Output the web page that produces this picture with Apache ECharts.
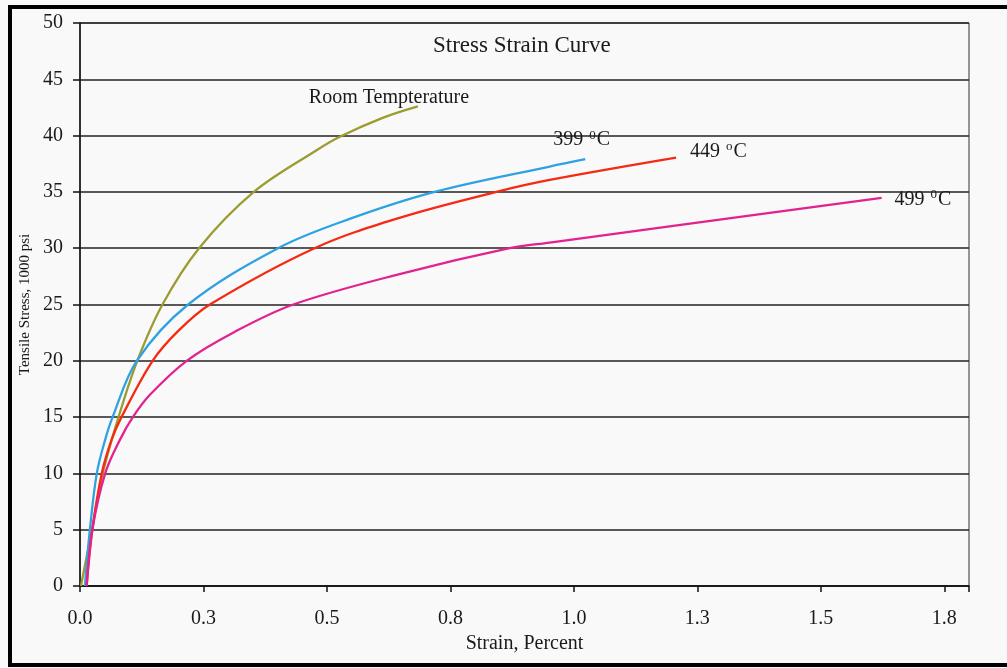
<!DOCTYPE html>
<html>
<head>
<meta charset="utf-8">
<script src="https://cdn.jsdelivr.net/npm/echarts@6/dist/echarts.min.js"></script>
<style>html,body{margin:0;padding:0;background:#f9f9f9}#c{width:1007px;height:668px}</style>
</head>
<body>
<div id="c"></div>
<script>
const titleText = 'Stress Strain Curve';
const xAxisName = 'Strain, Percent';
const yAxisName = 'Tensile Stress, 1000 psi';
const seriesNames = ['Room Tempterature', '399 {s|0}C', '449 {s|o}C', '499 {s|0}C'];

const strainRoom = [0.002, 0.024, 0.046, 0.078, 0.116, 0.167, 0.241, 0.352, 0.479, 0.526, 0.614, 0.684];
const stressRoom = [0, 5, 10, 15, 20, 25, 30, 35, 38.7, 39.9, 41.6, 42.6];

const strain399 = [0.010, 0.020, 0.034, 0.051, 0.066, 0.115, 0.219, 0.401, 0.546, 0.718, 0.951, 1.023];
const stress399 = [0, 5, 10, 13, 15, 20, 25, 30, 32.6, 35, 37.25, 37.9];

const strain449 = [0.0135, 0.025, 0.044, 0.064, 0.084, 0.147, 0.2, 0.263, 0.475, 0.647, 0.843, 0.951, 1.207];
const stress449 = [0, 5, 10, 13, 15, 20, 22.7, 25, 30, 32.7, 35, 36.06, 38.04];

const strain499 = [0.0135, 0.025, 0.051, 0.081, 0.107, 0.142, 0.216, 0.31, 0.432, 0.647, 0.870, 0.951, 1.22, 1.623];
const stress499 = [0, 5, 10, 13, 15, 17, 20, 22.5, 25, 27.7, 30, 30.5, 32.1, 34.46];

const colors = ['#9b9b30', '#2fa2e2', '#f52a12', '#e2238f'];

function zip(xs, ys) { return xs.map((x, i) => [x, ys[i]]); }

const font = "'Liberation Serif', 'Times New Roman', serif";
const labelOffsets = [[-117, -9], [-40, -19], [6, -6], [5, 2]];
const allData = [zip(strainRoom, stressRoom), zip(strain399, stress399), zip(strain449, stress449), zip(strain499, stress499)];

const chart = echarts.init(document.getElementById('c'));
chart.setOption({
  animation: false,
  backgroundColor: '#f9f9f9',
  title: {
    text: titleText, left: 428, top: 29,
    textStyle: { fontFamily: font, fontSize: 23, fontWeight: 'normal', color: '#1a1a1a' }
  },
  graphic: [{
    type: 'rect', shape: { x: 10, y: 7, width: 1010, height: 658 },
    style: { fill: 'none', stroke: '#000', lineWidth: 4 }, silent: true
  }],
  grid: { left: 80, top: 23, right: 38, bottom: 82, show: true, borderColor: '#333', borderWidth: 1, backgroundColor: 'transparent' },
  xAxis: {
    type: 'value', min: 0, max: 1.8, interval: 0.25,
    name: xAxisName, nameLocation: 'middle', nameGap: 47,
    nameTextStyle: { fontFamily: font, fontSize: 20, color: '#1a1a1a' },
    axisLine: { show: true, lineStyle: { color: '#111', width: 1.5 } },
    axisTick: { show: true, length: 6, lineStyle: { color: '#111', width: 1.5 } },
    axisLabel: {
      margin: 23, fontFamily: font, fontSize: 20, color: '#1a1a1a',
      formatter: v => (Math.abs(v / 0.25 - Math.round(v / 0.25)) < 1e-6 ? v.toFixed(1) : '')
    },
    splitLine: { show: false }
  },
  yAxis: {
    type: 'value', min: 0, max: 50, interval: 5,
    name: yAxisName, nameLocation: 'middle', nameGap: 46,
    nameTextStyle: { fontFamily: font, fontSize: 15, color: '#1a1a1a' },
    axisLine: { show: true, lineStyle: { color: '#111', width: 1.5 } },
    axisTick: { show: true, length: 7, lineStyle: { color: '#111', width: 1.5 } },
    axisLabel: { margin: 17, fontFamily: font, fontSize: 20, color: '#1a1a1a' },
    splitLine: { show: true, lineStyle: { color: '#222', width: 1.6 } }
  },
  series: allData.map((d, i) => ({
    type: 'line', name: seriesNames[i], data: d,
    smooth: 0.35, showSymbol: false, symbol: 'none',
    lineStyle: { color: colors[i], width: 2.3 },
    itemStyle: { color: colors[i] },
    endLabel: {
      show: true, formatter: seriesNames[i], offset: labelOffsets[i],
      fontFamily: font, fontSize: 20, color: '#1a1a1a',
      rich: { s: { fontFamily: font, fontSize: 13, color: '#1a1a1a', padding: [0, 1, 10, 1] } }
    }
  }))
});
</script>
</body>
</html>
